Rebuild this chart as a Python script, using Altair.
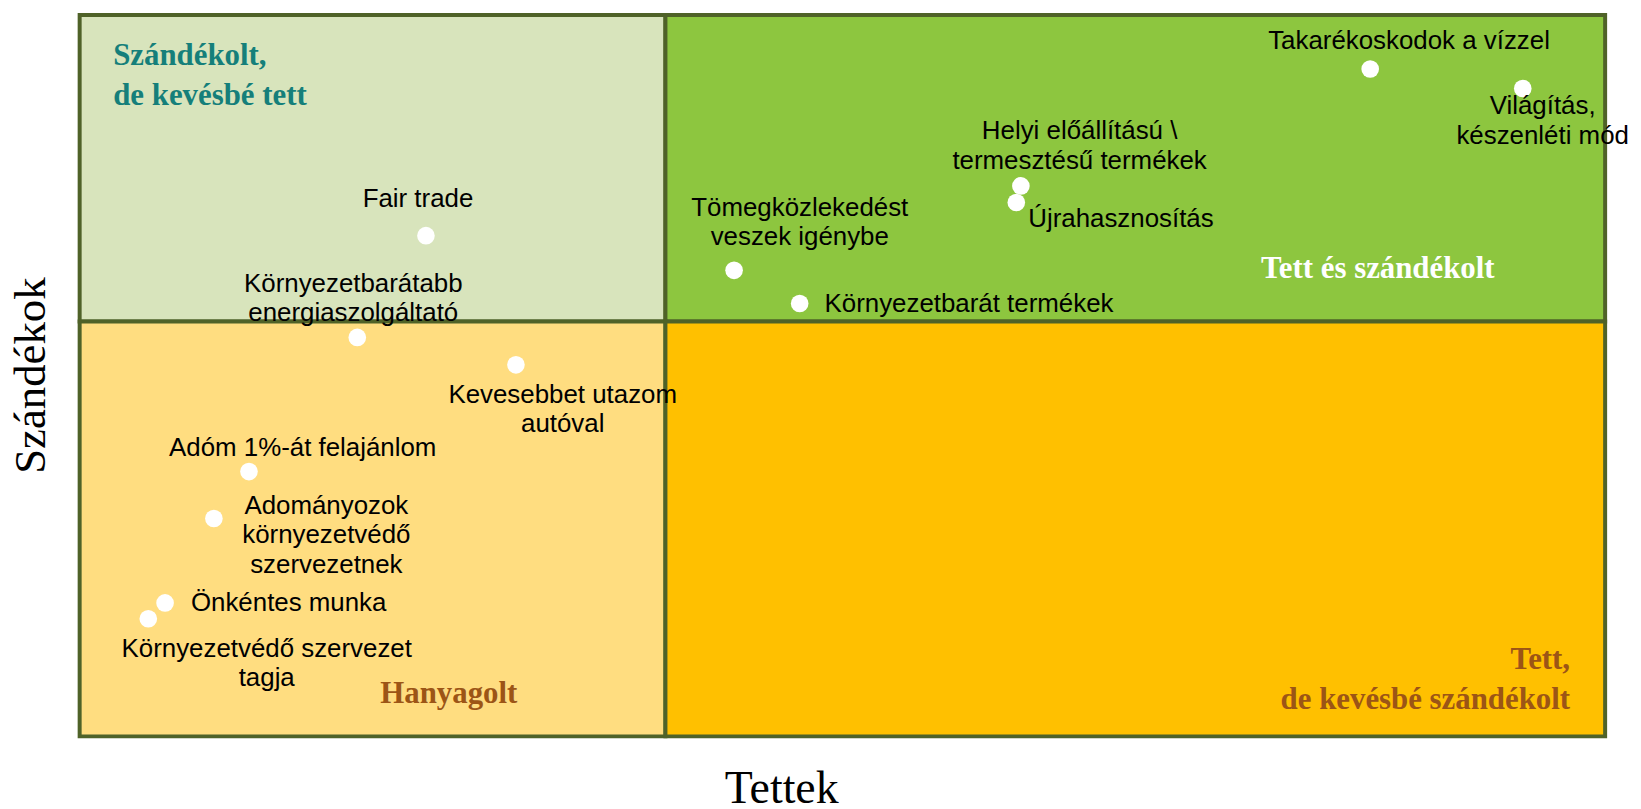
import altair as alt
import pandas as pd

# ---- data ----
labels = [
    "Fair trade",
    "Környezetbarátabb\nenergiaszolgáltató",
    "Kevesebbet utazom\nautóval",
    "Adóm 1%-át felajánlom",
    "Adományozok\nkörnyezetvédő\nszervezetnek",
    "Önkéntes munka",
    "Környezetvédő szervezet\ntagja",
    "Tömegközlekedést\nveszek igénybe",
    "Környezetbarát termékek",
    "Helyi előállítású \\\ntermesztésű termékek",
    "Újrahasznosítás",
    "Takarékoskodok a vízzel",
    "Világítás,\nkészenléti mód",
]
tettek = [22.7, 18.2, 28.6, 11.1, 8.8, 5.6, 4.5, 42.9, 47.2, 61.7, 61.4, 84.6, 94.6]
szandekok = [69.4, 55.3, 51.5, 36.7, 30.2, 18.5, 16.3, 64.6, 60.0, 76.3, 74.0, 92.5, 89.8]

quad_names = ["Szándékolt,\nde kevésbé tett", "Tett és szándékolt", "Hanyagolt", "Tett,\nde kevésbé szándékolt"]
quad_x0 = [0, 38.4, 0, 38.4]
quad_x1 = [38.4, 100, 38.4, 100]
quad_y0 = [57.5, 57.5, 0, 0]
quad_y1 = [100, 100, 57.5, 57.5]
quad_label_x = [2.2, 85.1, 24.2, 97.7]
quad_label_y = [94.3, 64.8, 5.8, 10.6]

# ---- styles ----
quad_fill = ["#D8E4BC", "#8DC63F", "#FFDD80", "#FFC000"]
quad_text_color = ["#157F7A", "#FFFFFF", "#9C5516", "#9C5516"]
quad_text_align = ["left", "center", "center", "right"]
border = "#4F6228"

# (dx, dy of first line, align) in pixels
label_style = {
    "Fair trade": (-8, -37, "center"),
    "Környezetbarátabb\nenergiaszolgáltató": (-4, -54, "center"),
    "Kevesebbet utazom\nautóval": (47, 30, "center"),
    "Adóm 1%-át felajánlom": (54, -24, "center"),
    "Adományozok\nkörnyezetvédő\nszervezetnek": (113, -13, "center"),
    "Önkéntes munka": (26, 0, "left"),
    "Környezetvédő szervezet\ntagja": (119, 30, "center"),
    "Tömegközlekedést\nveszek igénybe": (66, -63, "center"),
    "Környezetbarát termékek": (25, 1, "left"),
    "Helyi előállítású \\\ntermesztésű termékek": (59, -55, "center"),
    "Újrahasznosítás": (12, 17, "left"),
    "Takarékoskodok a vízzel": (39, -28, "center"),
    "Világítás,\nkészenléti mód": (20, 18, "center"),
}

pts = pd.DataFrame({"label": labels, "tettek": tettek, "szandekok": szandekok})
quads = pd.DataFrame({
    "name": quad_names, "tettek": quad_x0, "tettek2": quad_x1,
    "szandekok": quad_y0, "szandekok2": quad_y1, "fill": quad_fill,
    "lx": quad_label_x, "ly": quad_label_y,
})

xs = alt.Scale(domain=[0, 100], nice=False, zero=False)
ys = alt.Scale(domain=[0, 100], nice=False, zero=False)

x_axis = alt.Axis(title="Tettek", labels=False, ticks=False, domain=False, grid=False,
                  titleFont="Liberation Serif", titleFontSize=46, titleFontWeight="normal",
                  titleColor="black", titleX=705, titleY=66, titleBaseline="alphabetic",
                  titleAlign="center")
y_axis = alt.Axis(title="Szándékok", labels=False, ticks=False, domain=False, grid=False,
                  titleFont="Liberation Serif", titleFontSize=45, titleFontWeight="normal",
                  titleColor="black", titleX=-35, titleY=362, titleBaseline="alphabetic",
                  titleAlign="center", titleAngle=270)

rects = alt.Chart(quads).mark_rect(stroke=border, strokeWidth=4).encode(
    x=alt.X("tettek:Q", scale=xs, axis=x_axis),
    x2="tettek2:Q",
    y=alt.Y("szandekok:Q", scale=ys, axis=y_axis),
    y2="szandekok2:Q",
    color=alt.Color("fill:N", scale=None),
)

points = alt.Chart(pts).mark_circle(size=314, color="white", opacity=1).encode(
    x=alt.X("tettek:Q", scale=xs),
    y=alt.Y("szandekok:Q", scale=ys),
)

layers = [rects, points]
for lab in labels:
    dx, dy, al = label_style[lab]
    layers.append(
        alt.Chart(pts).transform_filter(alt.datum.label == lab).mark_text(
            font="Liberation Sans", fontSize=26, color="black", align=al,
            baseline="middle", dx=dx, dy=dy, lineBreak="\n", lineHeight=30,
        ).encode(
            x=alt.X("tettek:Q", scale=xs),
            y=alt.Y("szandekok:Q", scale=ys),
            text="label:N",
        )
    )

for i, nm in enumerate(quad_names):
    layers.append(
        alt.Chart(quads).transform_filter(alt.datum.name == nm).mark_text(
            font="Liberation Serif", fontSize=31, fontWeight="bold",
            color=quad_text_color[i], align=quad_text_align[i], baseline="middle",
            lineBreak="\n", lineHeight=40,
        ).encode(
            x=alt.X("lx:Q", scale=xs),
            y=alt.Y("ly:Q", scale=ys),
            text="name:N",
        )
    )

chart = alt.layer(*layers).properties(
    width=1533, height=725,
    padding={"left": 72, "top": 5, "right": 28, "bottom": 67},
    autosize=alt.AutoSizeParams(type="none"),
    background="white",
).configure_view(stroke=None)

chart.save("out.html", embed_options={"renderer": "svg", "actions": False})
